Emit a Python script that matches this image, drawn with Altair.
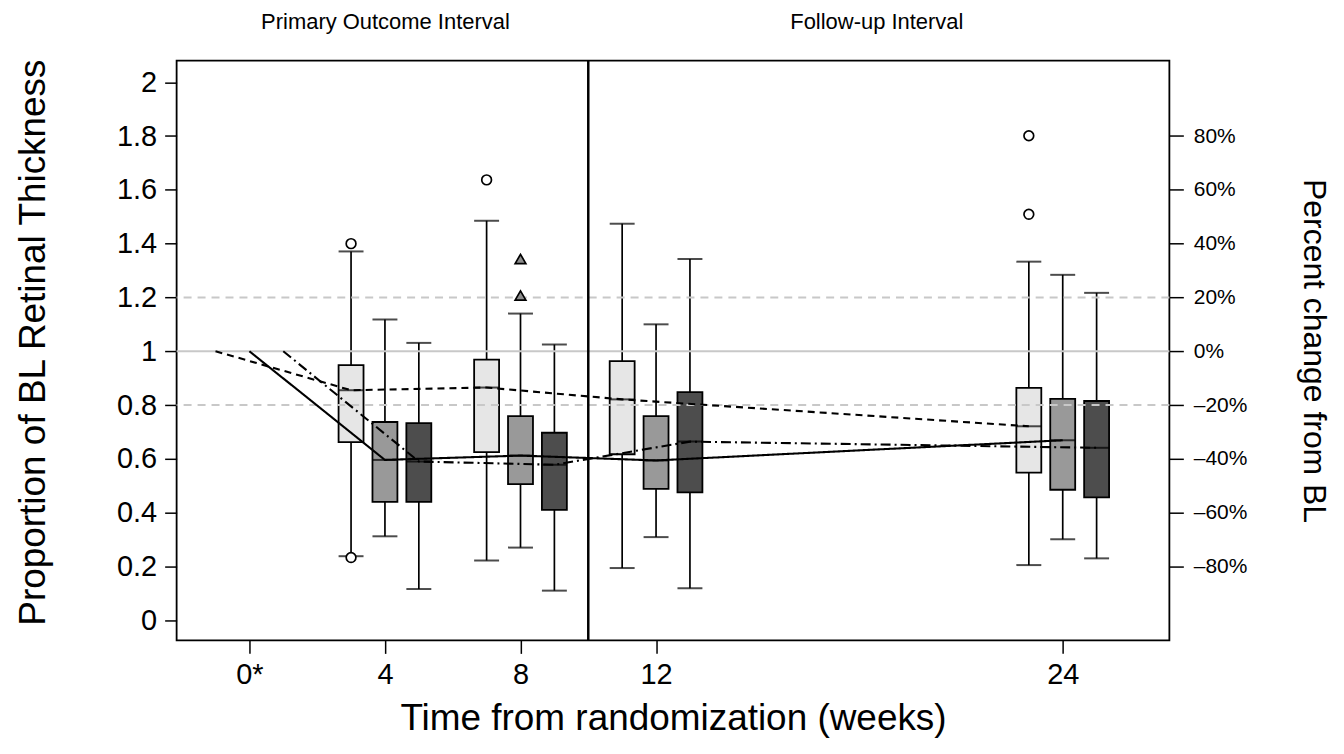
import altair as alt
import pandas as pd

# ---------------- data ----------------
weeks = [4, 8, 12, 24]
groups = ["light", "medium", "dark"]

q1 = {"light": [0.662, 0.625, 0.617, 0.549],
      "medium": [0.440, 0.506, 0.488, 0.485],
      "dark": [0.440, 0.410, 0.475, 0.457]}
q3 = {"light": [0.948, 0.969, 0.963, 0.864],
      "medium": [0.737, 0.759, 0.759, 0.823],
      "dark": [0.733, 0.697, 0.848, 0.815]}
med = {"light": [0.855, 0.865, 0.821, 0.721],
       "medium": [0.596, 0.612, 0.594, 0.669],
       "dark": [0.590, 0.578, 0.664, 0.641]}
lo = {"light": [0.238, 0.222, 0.194, 0.205],
      "medium": [0.312, 0.270, 0.309, 0.301],
      "dark": [0.116, 0.110, 0.119, 0.230]}
hi = {"light": [1.371, 1.485, 1.474, 1.333],
      "medium": [1.118, 1.140, 1.100, 1.284],
      "dark": [1.031, 1.025, 1.343, 1.217]}

baseline_week = 0
baseline_value = 1.0

out_group = ["light", "light", "light", "light", "light", "medium", "medium"]
out_week = [4, 4, 8, 24, 24, 8, 8]
out_value = [1.400, 0.233, 1.637, 1.801, 1.509, 1.343, 1.207]

ref_solid = [1.0]
ref_dashed = [1.2, 0.8]
split_week = [10]
interval_bounds = [-2, 10, 27]
interval_labels = ["Primary Outcome Interval", "Follow-up Interval"]

left_ticks = [0, 0.2, 0.4, 0.6, 0.8, 1.0, 1.2, 1.4, 1.6, 1.8, 2.0]
right_ticks = [0.2, 0.4, 0.6, 0.8, 1.0, 1.2, 1.4, 1.6, 1.8]
x_ticks = [0, 4, 8, 12, 24]

box_colors = ["#e6e6e6", "#999999", "#4d4d4d"]

# ---------------- tables ----------------
box_df = pd.DataFrame([
    {"group": g, "week": w, "q1": q1[g][i], "q3": q3[g][i], "med": med[g][i],
     "lo": lo[g][i], "hi": hi[g][i]}
    for g in groups for i, w in enumerate(weeks)
])
line_df = pd.DataFrame(
    [{"group": g, "week": baseline_week, "val": baseline_value} for g in groups] +
    [{"group": g, "week": w, "val": med[g][i]} for g in groups for i, w in enumerate(weeks)]
)
out_df = pd.DataFrame({"group": out_group, "week": out_week, "val": out_value})
mids = [(interval_bounds[i] + interval_bounds[i + 1]) / 2 for i in range(len(interval_labels))]
split_df = pd.DataFrame({"week": split_week})
solid_df = pd.DataFrame({"val": ref_solid})
dashed_df = pd.DataFrame({"val": ref_dashed})

dodge = "datum.week + (datum.group == 'light' ? -1 : (datum.group == 'dark' ? 1 : 0))"

x_scale = alt.Scale(domain=[interval_bounds[0], interval_bounds[-1]], nice=False, zero=False)
y_scale = alt.Scale(domain=[-0.075, 2.08], nice=False, zero=False)
FONT = "Liberation Sans"

color_enc = alt.Color("group:N", scale=alt.Scale(domain=groups, range=box_colors), legend=None)

# ---------------- layers ----------------
boxes = alt.Chart(box_df).transform_calculate(pos=dodge).mark_bar(
    size=25, stroke="black", strokeWidth=1.8
).encode(
    x=alt.X("pos:Q", scale=x_scale, title="Time from randomization (weeks)",
            axis=alt.Axis(values=x_ticks,
                          labelExpr="datum.value == 0 ? '0*' : datum.label",
                          tickSize=13, tickWidth=1.5, tickColor="black",
                          labelPadding=7, labelFontSize=29, labelColor="black",
                          titleFontSize=37, titleFontWeight="normal", titleColor="black",
                          titlePadding=11, domain=False, grid=False)),
    y=alt.Y("q1:Q", scale=y_scale, title="Proportion of BL Retinal Thickness",
            axis=alt.Axis(values=left_ticks, format="~g",
                          tickSize=12, tickWidth=1.5, tickColor="black",
                          labelPadding=8, labelFontSize=29, labelColor="black",
                          titleFontSize=37, titleFontWeight="normal", titleColor="black",
                          titlePadding=64, titleY=282, domain=False, grid=False)),
    y2="q3:Q",
    color=color_enc,
)

whisk_lo = alt.Chart(box_df).transform_calculate(pos=dodge).mark_rule(
    color="black", strokeWidth=1.7
).encode(x=alt.X("pos:Q", scale=x_scale, axis=None),
         y=alt.Y("lo:Q", scale=y_scale, axis=None), y2="q1:Q")

whisk_hi = alt.Chart(box_df).transform_calculate(pos=dodge).mark_rule(
    color="black", strokeWidth=1.7
).encode(x=alt.X("pos:Q", scale=x_scale, axis=None),
         y=alt.Y("q3:Q", scale=y_scale, axis=None), y2="hi:Q")

caps = alt.Chart(box_df).transform_calculate(pos=dodge).transform_fold(
    ["lo", "hi"], as_=["end", "v"]
).mark_tick(orient="horizontal", size=25, thickness=2, color="black").encode(
    x=alt.X("pos:Q", scale=x_scale, axis=None),
    y=alt.Y("v:Q", scale=y_scale, axis=None))

medians = alt.Chart(box_df).transform_calculate(pos=dodge).mark_tick(
    orient="horizontal", size=25, thickness=2, color="black"
).encode(x=alt.X("pos:Q", scale=x_scale, axis=None),
         y=alt.Y("med:Q", scale=y_scale, axis=None))

ref_s = alt.Chart(solid_df).mark_rule(color="#c8c8c8", strokeWidth=2).encode(
    y=alt.Y("val:Q", scale=y_scale, title="Percent change from BL",
            axis=alt.Axis(orient="right", values=right_ticks,
                          labelExpr="datum.value < 0.999 ? '\u2013' + format((1 - datum.value) * 100, '.0f') + '%' : format((datum.value - 1) * 100, '.0f') + '%'",
                          tickSize=14, tickWidth=1.5, tickColor="black",
                          labelPadding=10, labelFontSize=21, labelColor="black",
                          titleFontSize=32, titleFontWeight="normal", titleColor="black",
                          titleAngle=90, titlePadding=50, domain=False, grid=False)))

ref_d = alt.Chart(dashed_df).mark_rule(color="#c8c8c8", strokeWidth=2, strokeDash=[8, 6]).encode(
    y=alt.Y("val:Q", scale=y_scale, axis=None))

lines = alt.Chart(line_df).transform_calculate(pos=dodge).mark_line(
    color="black", strokeWidth=2.1
).encode(
    x=alt.X("pos:Q", scale=x_scale, axis=None),
    y=alt.Y("val:Q", scale=y_scale, axis=None),
    strokeDash=alt.StrokeDash("group:N", scale=alt.Scale(domain=groups,
                              range=[[7, 5], [1, 0], [10, 4, 2, 4]]), legend=None),
    order="week:Q",
)

outliers = alt.Chart(out_df).transform_calculate(pos=dodge).mark_point(
    filled=True, stroke="black", strokeWidth=1.7, opacity=1
).encode(
    x=alt.X("pos:Q", scale=x_scale, axis=None),
    y=alt.Y("val:Q", scale=y_scale, axis=None),
    shape=alt.Shape("group:N", scale=alt.Scale(domain=["light", "medium"],
                    range=["circle", "triangle-up"]), legend=None),
    fill=alt.Fill("group:N", scale=alt.Scale(domain=["light", "medium"],
                  range=["#ffffff", "#8c8c8c"]), legend=None),
    size=alt.Size("group:N", scale=alt.Scale(domain=["light", "medium"],
                  range=[95, 115]), legend=None),
)

split = alt.Chart(split_df).mark_rule(color="black", strokeWidth=2.5).encode(
    x=alt.X("week:Q", scale=x_scale, title=None,
            axis=alt.Axis(orient="top", values=mids,
                          labelExpr="datum.value < %g ? '%s' : '%s'" % (split_week[0], interval_labels[0], interval_labels[1]),
                          ticks=False, domain=False, grid=False, labelLimit=0,
                          labelPadding=32, labelBaseline="alphabetic",
                          labelFontSize=22, labelColor="black")))

chart = alt.layer(
    boxes, whisk_lo, whisk_hi, caps, medians, ref_s, ref_d, lines, outliers, split
).resolve_axis(x="independent", y="independent").properties(
    width=995, height=581,
    autosize=alt.AutoSizeParams(type="none"),
    padding={"left": 169, "top": 52, "right": 167, "bottom": 104},
).configure(
    font=FONT
).configure_view(
    stroke="black", strokeWidth=1.8
).configure_axis(labelFont=FONT, titleFont=FONT)

chart.save("out.html", embed_options={"renderer": "svg", "actions": False})
